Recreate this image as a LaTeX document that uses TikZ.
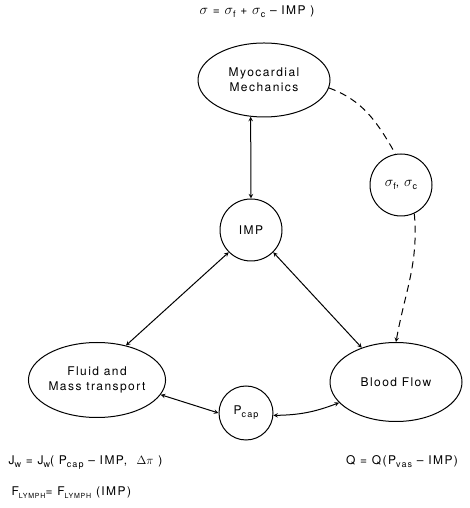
\documentclass[tikz,border=0pt]{standalone}
\usepackage{fontspec}
\setmainfont{TeX Gyre Heros}[LetterSpace=12]
\usetikzlibrary{shapes.geometric}
\newcommand\lo[1]{\raisebox{-0.5ex}{\small #1}}
\newcommand\sg{{\fontsize{15}{15}\selectfont$\sigma$}}
\begin{document}
\begin{tikzpicture}[x=1pt,y=1pt,>=stealth,
    font=\fontsize{12}{15}\selectfont,
    bubble/.style={draw,ellipse,line width=1pt,inner sep=0pt,align=center},
    dot/.style={draw,circle,line width=1pt,inner sep=0pt,minimum size=62pt},
    link/.style={<->,line width=1pt},
    hint/.style={line width=1pt,dash pattern=on 7pt off 5pt}]
  \useasboundingbox (0,0) rectangle (469,508);
  % equations
  \node (eqs) at (257,496) {\sg{} = \sg\lo{f} + \sg\lo{c} -- IMP )};
  \node[anchor=west] (eqj) at (5,45) {J\lo{w} = J\lo{w}( P\lo{cap} -- IMP, \ $\Delta\pi$ )};
  \node[anchor=west] (eqf) at (8,15) {F\lo{\scriptsize LYMPH}= F\lo{\scriptsize LYMPH} (IMP)};
  \node (eqq) at (402,46) {Q = Q(P\lo{vas} -- IMP)};
  % blocks
  \node[bubble,minimum width=132pt,minimum height=74pt] (myo) at (264,428) {Myocardial\\Mechanics};
  \node[dot] (imp) at (251,278) {IMP};
  \node[dot] (sig) at (401,323) {\sg\lo{f}, \sg\lo{c}};
  \node[bubble,minimum width=133pt,minimum height=75pt] (fluid) at (97,128) {Fluid and\\Mass transport};
  \node[dot,minimum size=54pt] (pcap) at (246,95) {P\lo{cap}};
  \node[bubble,minimum width=132pt,minimum height=79pt] (blood) at (396,126) {Blood Flow};
  % links
  \draw[link] (myo.250) -- (imp.north);
  \draw[link] (imp.225) -- (fluid.50);
  \draw[link] (imp.-45) -- (blood.135);
  \draw[link] (fluid.-13) -- (pcap.west);
  \draw[link] (pcap.-5) to[bend right=10] (blood.200);
  \draw[hint] (myo.-7) to[out=-20,in=120] (sig.100);
  \draw[hint,->] (sig.-65) to[out=-85,in=80] (blood.north);
\end{tikzpicture}
\end{document}
